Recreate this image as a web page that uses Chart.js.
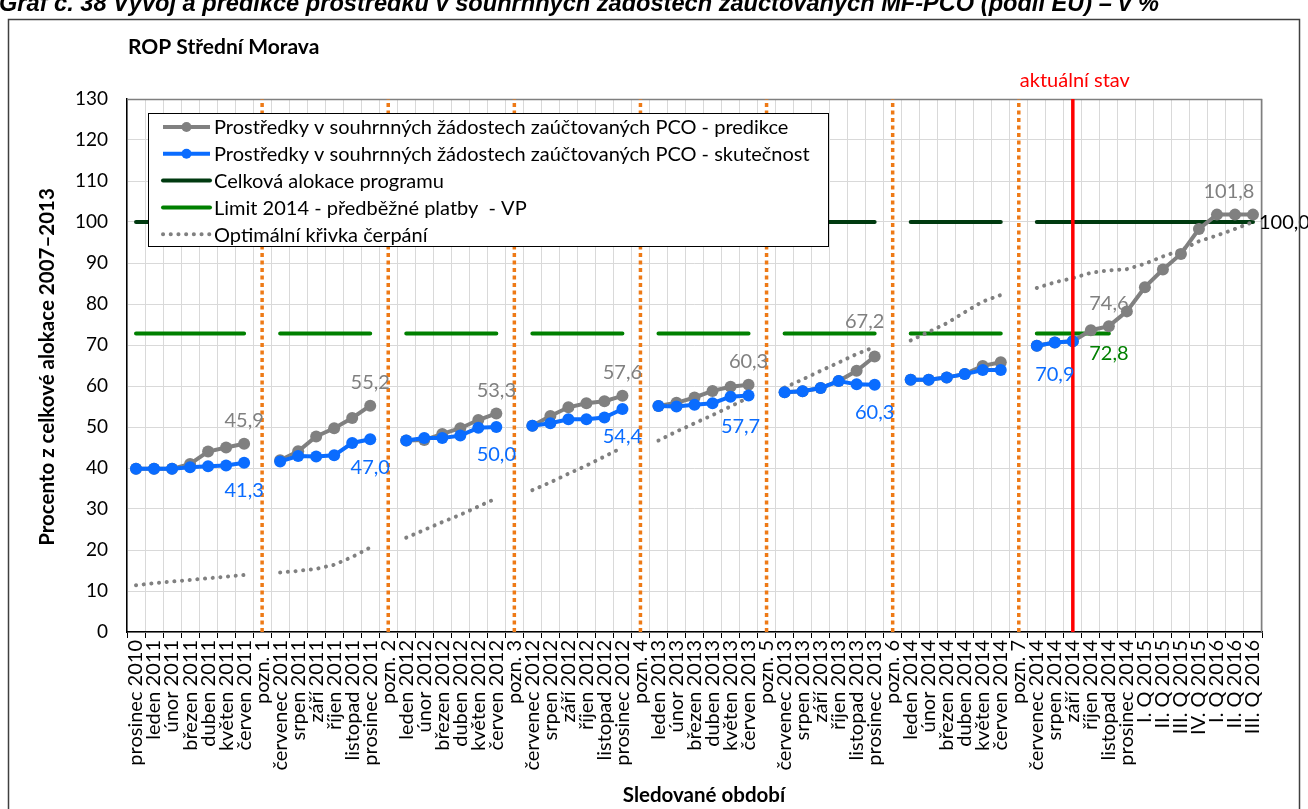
<!DOCTYPE html>
<html lang="cs">
<head>
<meta charset="utf-8">
<title>ROP Střední Morava</title>
<script src="https://cdn.jsdelivr.net/npm/chart.js@4.4.1/dist/chart.umd.min.js"></script>
<style>
  html, body { margin: 0; padding: 0; background: #fff; }
  #wrap { position: relative; width: 1308px; height: 809px; overflow: hidden; }
</style>
</head>
<body>
<div id="wrap"><canvas id="chart" width="1308" height="809"></canvas></div>
<script>
// --- data (values in % of the 2007–2013 allocation) ---
const categories = [
  'prosinec 2010', 'leden 2011', 'únor 2011', 'březen 2011', 'duben 2011', 'květen 2011', 'červen 2011', 'pozn. 1',
  'červenec 2011', 'srpen 2011', 'září 2011', 'říjen 2011', 'listopad 2011', 'prosinec 2011', 'pozn. 2',
  'leden 2012', 'únor 2012', 'březen 2012', 'duben 2012', 'květen 2012', 'červen 2012', 'pozn. 3',
  'červenec 2012', 'srpen 2012', 'září 2012', 'říjen 2012', 'listopad 2012', 'prosinec 2012', 'pozn. 4',
  'leden 2013', 'únor 2013', 'březen 2013', 'duben 2013', 'květen 2013', 'červen 2013', 'pozn. 5',
  'červenec 2013', 'srpen 2013', 'září 2013', 'říjen 2013', 'listopad 2013', 'prosinec 2013', 'pozn. 6',
  'leden 2014', 'únor 2014', 'březen 2014', 'duben 2014', 'květen 2014', 'červen 2014', 'pozn. 7',
  'červenec 2014', 'srpen 2014', 'září 2014', 'říjen 2014', 'listopad 2014', 'prosinec 2014',
  'I. Q 2015', 'II. Q 2015', 'III. Q 2015', 'IV. Q 2015', 'I. Q 2016', 'II. Q 2016', 'III. Q 2016'
];

const predikce = [
  39.8, 39.8, 39.8, 41.0, 44.0, 45.0, 45.9, null,
  41.9, 44.1, 47.7, 49.7, 52.2, 55.2, null,
  46.7, 46.8, 48.3, 49.7, 51.7, 53.3, null,
  50.3, 52.7, 54.8, 55.8, 56.3, 57.6, null,
  55.1, 55.9, 57.2, 58.8, 59.8, 60.3, null,
  58.5, 58.7, 59.5, 61.2, 63.7, 67.2, null,
  61.5, 61.5, 62.1, 62.9, 64.9, 65.8, null,
  69.8, 70.6, 70.9, 73.6, 74.6, 78.2,
  84.1, 88.4, 92.2, 98.3, 101.8, 101.8, 101.8
];

const skutecnost = [
  39.8, 39.8, 39.8, 40.2, 40.4, 40.6, 41.3, null,
  41.6, 42.9, 42.8, 43.1, 46.1, 47.0, null,
  46.7, 47.3, 47.3, 47.9, 49.8, 50.0, null,
  50.3, 50.9, 51.9, 51.9, 52.3, 54.4, null,
  55.1, 55.0, 55.4, 55.8, 57.4, 57.7, null,
  58.5, 58.7, 59.5, 61.2, 60.4, 60.3, null,
  61.5, 61.5, 62.1, 62.9, 63.9, 63.9, null,
  69.8, 70.6, 70.9, null, null, null,
  null, null, null, null, null, null, null
];

const alokace = [
  100, 100, 100, 100, 100, 100, 100, null,
  100, 100, 100, 100, 100, 100, null,
  100, 100, 100, 100, 100, 100, null,
  100, 100, 100, 100, 100, 100, null,
  100, 100, 100, 100, 100, 100, null,
  100, 100, 100, 100, 100, 100, null,
  100, 100, 100, 100, 100, 100, null,
  100, 100, 100, 100, 100, 100,
  100, 100, 100, 100, 100, 100, 100
];

const limit2014 = [
  72.8, 72.8, 72.8, 72.8, 72.8, 72.8, 72.8, null,
  72.8, 72.8, 72.8, 72.8, 72.8, 72.8, null,
  72.8, 72.8, 72.8, 72.8, 72.8, 72.8, null,
  72.8, 72.8, 72.8, 72.8, 72.8, 72.8, null,
  72.8, 72.8, 72.8, 72.8, 72.8, 72.8, null,
  72.8, 72.8, 72.8, 72.8, 72.8, 72.8, null,
  72.8, 72.8, 72.8, 72.8, 72.8, 72.8, null,
  72.8, 72.8, 72.8, 72.8, 72.8, null,
  null, null, null, null, null, null, null
];

const optimalni = [
  11.4, 11.9, 12.3, 12.7, 13.1, 13.5, 13.9, null,
  14.5, 14.9, 15.4, 16.4, 18.3, 20.6, null,
  23.0, 24.9, 26.8, 28.6, 30.6, 32.6, null,
  34.6, 36.5, 38.6, 40.6, 42.8, 45.0, null,
  46.7, 48.9, 50.9, 52.9, 55.0, 57.2, null,
  59.6, 61.6, 63.7, 65.7, 67.8, 69.5, null,
  71.1, 73.2, 75.3, 78.0, 80.6, 82.2, null,
  83.9, 85.3, 86.3, 87.6, 88.2, 88.5,
  89.8, 91.6, 93.1, 95.3, 96.7, 98.3, 100.0
];

const noteCategories = ['pozn. 1', 'pozn. 2', 'pozn. 3', 'pozn. 4', 'pozn. 5', 'pozn. 6', 'pozn. 7'];
const currentCategory = 'září 2014';
const yTicks = [0, 10, 20, 30, 40, 50, 60, 70, 80, 90, 100, 110, 120, 130];

// which points carry a value label
const predikceLabelAt = ['červen 2011', 'prosinec 2011', 'červen 2012', 'prosinec 2012', 'červen 2013', 'prosinec 2013', 'listopad 2014', 'II. Q 2016'];
const skutecnostLabelAt = ['červen 2011', 'prosinec 2011', 'červen 2012', 'prosinec 2012', 'červen 2013', 'prosinec 2013', 'září 2014'];
const limitLabelAt = ['listopad 2014'];
const alokaceLabelAt = ['III. Q 2016'];

// --- styling ---
const FONT = 'Lato, "Open Sans", sans-serif';
const GRAY = '#808080';
const BLUE = '#0a6cff';
const DARK_GREEN = '#003a10';
const GREEN = '#008000';
const ORANGE = '#ee7a16';
const RED = '#ff0000';

const yMin = yTicks[0];
const yMax = yTicks[yTicks.length - 1];

// vertical marker lines built from the category names and the axis range
const noteLines = [];
noteCategories.forEach((c) => {
  noteLines.push({ x: c, y: yMin }, { x: c, y: yMax }, { x: c, y: null });
});
const currentLine = [{ x: currentCategory, y: yMin }, { x: currentCategory, y: yMax }];

const fmt = (v) => v.toFixed(1).replace('.', ',');

// label nudges (px) where the original labels were moved by hand
const nudges = {
  'p:prosinec 2013': [-10, -12],
  'p:II. Q 2016': [-6, 0],
  's:září 2014': [-18, 5],
  's:červen 2013': [-8, 3],
};

const decorPlugin = {
  id: 'decor',
  beforeDatasetsDraw(chart) {
    const { ctx, chartArea: a } = chart;
    ctx.save();
    ctx.strokeStyle = '#7f7f7f';
    ctx.lineWidth = 1.5;
    ctx.beginPath();
    ctx.moveTo(a.left, a.top + 0.5);
    ctx.lineTo(a.right - 0.5, a.top + 0.5);
    ctx.lineTo(a.right - 0.5, a.bottom);
    ctx.stroke();
    ctx.restore();
  },
  afterDatasetsDraw(chart) {
    drawLegend(chart);
  },
  afterDraw(chart) {
    const { ctx } = chart;
    const xs = chart.scales.x;
    const ys = chart.scales.y;

    ctx.save();
    ctx.textBaseline = 'middle';
    ctx.font = '20px ' + FONT;

    const put = (key, cat, value, color, dy) => {
      const i = categories.indexOf(cat);
      const n = nudges[key + ':' + cat] || [0, 0];
      ctx.fillStyle = color;
      ctx.textAlign = 'center';
      ctx.fillText(fmt(value), xs.getPixelForValue(i) + n[0], ys.getPixelForValue(value) + dy + n[1]);
    };
    predikceLabelAt.forEach((c) => put('p', c, predikce[categories.indexOf(c)], GRAY, -23));
    skutecnostLabelAt.forEach((c) => put('s', c, skutecnost[categories.indexOf(c)], BLUE, 28));
    limitLabelAt.forEach((c) => put('l', c, limit2014[categories.indexOf(c)], GREEN, 20));
    alokaceLabelAt.forEach((c) => {
      const i = categories.indexOf(c);
      ctx.fillStyle = '#000';
      ctx.textAlign = 'left';
      ctx.fillText(fmt(alokace[i]), xs.getPixelForValue(i) + 6, ys.getPixelForValue(alokace[i]) + 1);
    });

    // "aktuální stav" above the red line
    ctx.fillStyle = RED;
    ctx.textAlign = 'center';
    ctx.fillText('aktuální stav', xs.getPixelForValue(categories.indexOf(currentCategory)) + 2, 81);

    // chart title and axis titles
    ctx.fillStyle = '#000';
    ctx.font = 'bold 21px ' + FONT;
    ctx.textAlign = 'left';
    ctx.fillText('ROP Střední Morava', 128, 47);

    ctx.font = 'bold 20.5px ' + FONT;
    ctx.textAlign = 'center';
    ctx.fillText('Sledované období', 704, 795);
    ctx.save();
    ctx.translate(47, 367);
    ctx.rotate(-Math.PI / 2);
    ctx.fillText('Procento z celkové alokace 2007–2013', 0, 0);
    ctx.restore();

    // heading of the page, cut off at the top edge
    ctx.font = 'italic bold 24px "Liberation Sans Narrow", "Liberation Sans", Arial, sans-serif';
    ctx.textAlign = 'left';
    ctx.textBaseline = 'alphabetic';
    const heading = 'Graf č. 38 Vývoj a predikce prostředků v souhrnných žádostech zaúčtovaných MF-PCO (podíl EU) – v %';
    const w = ctx.measureText(heading).width;
    ctx.save();
    ctx.translate(-1, 11);
    ctx.scale(1160 / w, 1);
    ctx.fillText(heading, 0, 0);
    ctx.restore();

    // outer frame of the chart object
    ctx.strokeStyle = '#404040';
    ctx.lineWidth = 1.5;
    ctx.strokeRect(8.5, 19.5, 1291, 820);
    ctx.restore();
  }
};

function drawLegend(chart) {
  const ctx = chart.ctx;
  const order = [1, 2, 5, 4, 3]; // predikce, skutečnost, alokace, limit, optimální
  const left = 148.5, top = 113.5, width = 680, height = 133;
  ctx.save();
  ctx.fillStyle = '#fff';
  ctx.fillRect(left, top, width, height);
  ctx.strokeStyle = '#000';
  ctx.lineWidth = 1;
  ctx.strokeRect(left, top, width, height);
  ctx.font = '20px ' + FONT;
  ctx.textBaseline = 'middle';
  ctx.textAlign = 'left';
  order.forEach((di, row) => {
    const ds = chart.data.datasets[di];
    const y = 127 + row * 26.8;
    ctx.strokeStyle = ds.borderColor;
    ctx.lineWidth = ds.borderWidth;
    ctx.lineCap = ds.borderCapStyle || 'butt';
    ctx.setLineDash(ds.borderDash || []);
    ctx.beginPath();
    ctx.moveTo(163, y);
    ctx.lineTo(210, y);
    ctx.stroke();
    ctx.setLineDash([]);
    if (ds.pointRadius) {
      ctx.fillStyle = ds.pointBackgroundColor;
      ctx.beginPath();
      ctx.arc(186.5, y, 5, 0, Math.PI * 2);
      ctx.fill();
    }
    ctx.fillStyle = '#000';
    ctx.fillText(ds.label, 214, y + 1);
  });
  ctx.restore();
}

const lineSeries = (label, data, color, extra) => Object.assign({
  type: 'line',
  label,
  data,
  borderColor: color,
  backgroundColor: color,
  borderWidth: 4,
  pointRadius: 0,
  pointHoverRadius: 0,
  spanGaps: false,
  tension: 0,
  fill: false,
}, extra || {});

new Chart(document.getElementById('chart'), {
  type: 'line',
  data: {
    labels: categories,
    datasets: [
      lineSeries('aktuální stav', currentLine, RED, { order: 0, borderWidth: 3.5 }),
      lineSeries('Prostředky v souhrnných žádostech zaúčtovaných PCO - predikce', predikce, GRAY, {
        order: 2, pointRadius: 6, pointBackgroundColor: GRAY, pointBorderWidth: 0,
      }),
      lineSeries('Prostředky v souhrnných žádostech zaúčtovaných PCO - skutečnost', skutecnost, BLUE, {
        order: 1, pointRadius: 6, pointBackgroundColor: BLUE, pointBorderWidth: 0,
      }),
      lineSeries('Optimální křivka čerpání', optimalni, GRAY, {
        order: 3, borderDash: [0.1, 7.6], borderCapStyle: 'round', borderWidth: 4,
      }),
      lineSeries('Limit 2014 - předběžné platby  - VP', limit2014, GREEN, { order: 4, borderCapStyle: 'round' }),
      lineSeries('Celková alokace programu', alokace, DARK_GREEN, { order: 5, borderCapStyle: 'round' }),
      lineSeries('pozn.', noteLines, ORANGE, { order: 6, borderDash: [4, 3.5], borderWidth: 3.5 }),
    ],
  },
  options: {
    responsive: false,
    animation: false,
    events: [],
    layout: { padding: { top: 99, right: 46, bottom: 0, left: 0 } },
    plugins: {
      legend: { display: false },
      tooltip: { enabled: false },
      title: { display: false },
    },
    scales: {
      x: {
        type: 'category',
        offset: true,
        afterFit: (scale) => { scale.height = 177; },
        grid: {
          offset: true,
          color: '#d9d9d9',
          lineWidth: 1,
          drawTicks: true,
          tickLength: 6,
          tickColor: '#000',
        },
        border: { color: '#000', width: 1.5 },
        ticks: {
          autoSkip: false,
          minRotation: 90,
          maxRotation: 90,
          padding: 2,
          color: '#000',
          font: { family: FONT, size: 20 },
        },
      },
      y: {
        min: yMin,
        max: yMax,
        afterFit: (scale) => { scale.width = 127; },
        afterBuildTicks: (scale) => { scale.ticks = yTicks.map((v) => ({ value: v })); },
        grid: { color: '#d9d9d9', lineWidth: 1, drawTicks: false },
        border: { color: '#000', width: 1.5 },
        ticks: {
          padding: 19,
          color: '#000',
          font: { family: FONT, size: 19 },
        },
      },
    },
  },
  plugins: [decorPlugin],
});
</script>
</body>
</html>
